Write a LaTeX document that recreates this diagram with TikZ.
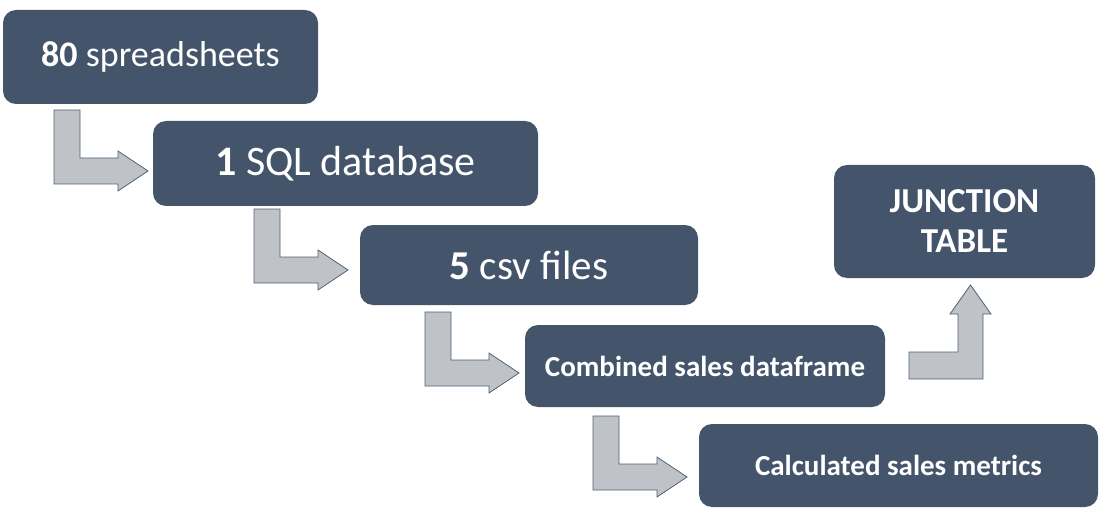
\documentclass[tikz,border=0pt]{standalone}
\usepackage{fontspec}
\setmainfont{Carlito}
\usepackage{tikz}
\usepackage{xcolor}
\definecolor{boxblue}{HTML}{44546A}
\definecolor{arrowgray}{HTML}{BFC3C8}
\definecolor{arrowedge}{HTML}{4F6074}

\begin{document}
\begin{tikzpicture}[x=1pt,y=-1pt,
  box/.style={fill=boxblue,text=white,rounded corners=13pt,inner sep=0pt,align=center},
  blockarrow/.style={fill=arrowgray,draw=arrowedge,line width=0.8pt,line join=miter},
  downright/.pic={\path[blockarrow] (0,0) -- (26,0) -- (26,48) -- (64,48) -- (64,41) -- (94,61)
      -- (64,81) -- (64,74) -- (0,74) -- cycle;},
  rightup/.pic={\path[blockarrow] (0,0) -- (0,-27) -- (49,-27) -- (49,-65) -- (41,-65) -- (61.5,-94)
      -- (82,-65) -- (74,-65) -- (74,0) -- cycle;}]
  \useasboundingbox (0,0) rectangle (1105,513);

  % the steps
  \node[box,minimum width=315pt,minimum height=94pt,font=\fontsize{36}{42}\selectfont] (sheets)
    at (160.5,57) {\textbf{80} spreadsheets};
  \node[box,minimum width=385pt,minimum height=85pt,font=\fontsize{42}{48}\selectfont] (sqldb)
    at (345.5,163.5) {\textbf{1} SQL database};
  \node[box,minimum width=338pt,minimum height=80pt,font=\fontsize{41}{47}\selectfont] (csv)
    at (529,265) {\textbf{5} csv files};
  \node[box,minimum width=360pt,minimum height=82pt,font=\fontsize{29}{34}\selectfont\bfseries] (combined)
    at (705,366) {Combined sales dataframe};
  \node[box,minimum width=399pt,minimum height=83pt,font=\fontsize{29}{34}\selectfont\bfseries] (metrics)
    at (898.5,465.5) {Calculated sales metrics};
  \node[box,minimum width=261pt,minimum height=113pt,font=\fontsize{35}{40}\selectfont\bfseries] (junction)
    at (964.5,221.5) {JUNCTION\\TABLE};

  % bent arrows between them
  \pic at (54,110) {downright};
  \pic at (254,209) {downright};
  \pic at (425,312) {downright};
  \pic at (593,416) {downright};
  \pic at (909,379) {rightup};

\end{tikzpicture}
\end{document}
